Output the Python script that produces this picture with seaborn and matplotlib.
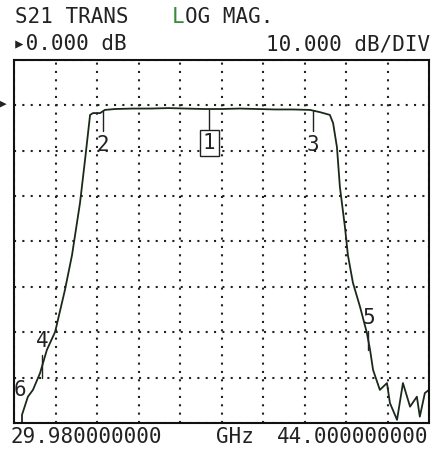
import numpy as np
import pandas as pd
import matplotlib
matplotlib.use("Agg")
import matplotlib.pyplot as plt
import seaborn as sns

# trace (GHz, dB)
freq = [30.25, 30.25, 30.45, 30.62, 30.86, 31.09, 31.37, 31.70, 31.94, 32.21,
        32.38, 32.55, 32.65, 32.89, 33.05, 33.40, 34.00, 34.60, 35.20, 35.80,
        36.40, 37.00, 37.60, 38.20, 38.80, 39.40, 39.98, 40.32, 40.65, 40.76,
        40.89, 40.99, 41.16, 41.26, 41.43, 41.67, 41.90, 42.01, 42.11, 42.34,
        42.58, 42.68, 42.92, 43.12, 43.36, 43.59, 43.69, 43.86, 44.00]
s21_db = [-70.0, -68.2, -64.2, -62.7, -59.0, -53.9, -49.9, -40.7, -33.0, -21.5,
          -12.0, -2.1, -1.7, -1.7, -1.0, -0.8, -0.7, -0.7, -0.6, -0.7,
          -0.8, -0.8, -0.7, -0.8, -0.9, -0.9, -1.0, -1.5, -2.1, -3.9,
          -9.2, -18.0, -26.8, -33.0, -39.1, -44.4, -50.1, -53.9, -58.3, -62.7,
          -61.2, -65.6, -69.3, -61.2, -66.4, -64.2, -68.6, -63.4, -62.7]

# markers: label, frequency (GHz), level at tip (dB), label level (dB)
marker_labels = ["1", "2", "3", "4", "5", "6"]
marker_freq = [36.57, 32.99, 40.08, 30.92, 41.95, 29.98]
marker_tip = [-0.8, -1.3, -1.2, -60.0, -54.0, -70.0]
marker_text = [-8.3, -8.8, -8.8, -52.0, -46.8, -62.8]

f_start, f_stop = 29.98, 44.0
ref_top, ref_bottom = 10, -70

df = pd.DataFrame({"GHz": freq, "dB": s21_db})

sns.set_style("white")
mono = ["DejaVu Sans Mono", "DejaVu Sans"]
ink = "#222222"

fig = plt.figure(figsize=(4.33, 4.51), dpi=100)
ax = fig.add_axes([14 / 433, 28 / 451, 415 / 433, 363 / 451])

sns.lineplot(data=df, x="GHz", y="dB", sort=False, estimator=None,
             color="#1a2a1a", linewidth=1.3, ax=ax)

ax.set_xlim(f_start, f_stop)
ax.set_ylim(ref_bottom, ref_top)
ax.set_xticks(np.linspace(f_start, f_stop, 11))
ax.set_yticks(np.arange(ref_bottom, ref_top + 1, 10))
ax.tick_params(length=0, labelbottom=False, labelleft=False)
ax.set_xlabel("")
ax.set_ylabel("")
ax.grid(True, color=ink, linestyle=(0, (1, 3)), linewidth=1.5)
for sp in ax.spines.values():
    sp.set_color("#111111")
    sp.set_linewidth(1.5)

# markers
for lab, mf, tip, tx in zip(marker_labels, marker_freq, marker_tip, marker_text):
    if lab in ("1", "2", "3"):
        ax.plot([mf, mf], [tip, tx + 3.2], color=ink, linewidth=1.0)
    elif lab in ("4", "5"):
        ax.plot([mf, mf], [tip, tx - 3.0], color=ink, linewidth=1.0)
    if lab == "1":
        ax.text(mf, tx, lab, ha="center", va="center", family=mono,
                fontsize=15, color=ink,
                bbox=dict(boxstyle="square,pad=0.15", fc="white", ec=ink, lw=1.0))
    else:
        ax.text(mf, tx, lab, ha="center" if lab != "6" else "left",
                va="center", family=mono, fontsize=15, color=ink)

# reference arrow at the 0 dB line
fig.text(0.0, 1 - 104 / 451, "▶", family=mono, fontsize=8,
         va="center", ha="left", color=ink)

# header and footer annotations
fig.text(15 / 433, 1 - 17 / 451, "S21 TRANS", family=mono, fontsize=15,
         va="center", ha="left", color=ink)
fig.text(172 / 433, 1 - 17 / 451, "L", family=mono, fontsize=15,
         va="center", ha="left", color="#3a8a3a")
fig.text(185 / 433, 1 - 17 / 451, "OG MAG.", family=mono, fontsize=15,
         va="center", ha="left", color=ink)
fig.text(13 / 433, 1 - 44 / 451, "▸0.000 dB", family=mono, fontsize=15,
         va="center", ha="left", color=ink)
fig.text(430 / 433, 1 - 44 / 451, "10.000 dB/DIV", family=mono, fontsize=15,
         va="center", ha="right", color=ink)
fig.text(10 / 433, 1 - 437 / 451, "29.980000000", family=mono, fontsize=15,
         va="center", ha="left", color=ink)
fig.text(235 / 433, 1 - 437 / 451, "GHz", family=mono, fontsize=15,
         va="center", ha="center", color=ink)
fig.text(428 / 433, 1 - 437 / 451, "44.000000000", family=mono, fontsize=15,
         va="center", ha="right", color=ink)

fig.savefig("out.png", dpi=100)
